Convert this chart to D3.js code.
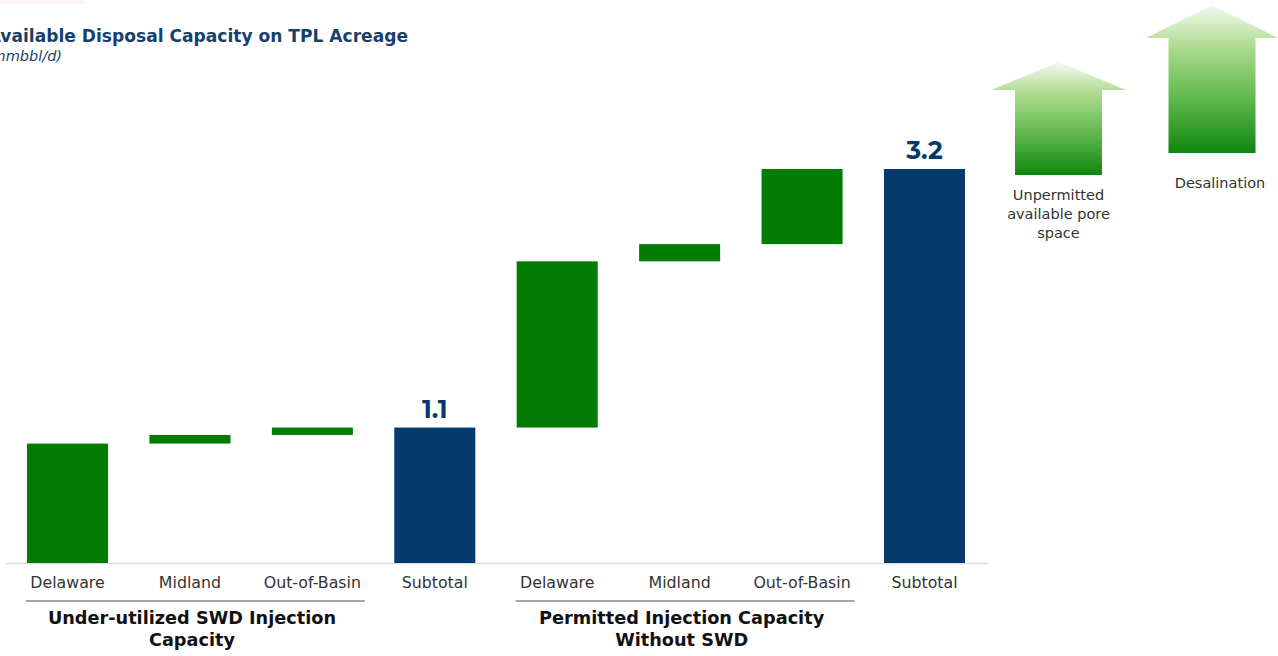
<!DOCTYPE html>
<html>
<head>
<meta charset="utf-8">
<script src="https://cdn.jsdelivr.net/npm/d3@7"></script>
<style>
  html, body { margin: 0; padding: 0; background: #ffffff; }
  svg { display: block; }
</style>
</head>
<body>
<svg id="chart" width="1278" height="656"></svg>
<script>
// Waterfall of available disposal capacity (mmbbl/d)
const categories = ["Delaware", "Midland", "Out-of-Basin", "Subtotal",
                    "Delaware", "Midland", "Out-of-Basin", "Subtotal"];
const stepValues = [0.97, 0.07, 0.06, null, 1.35, 0.14, 0.61, null];
const subtotalValues = [1.1, 3.2];
const groupLabels = [
  ["Under-utilized SWD Injection", "Capacity"],
  ["Permitted Injection Capacity", "Without SWD"]
];
const upsideLabels = [
  ["Unpermitted", "available pore", "space"],
  ["Desalination"]
];

const GREEN = "#037c03";
const NAVY = "#053a6d";
const TITLE = "#163f6c";
const FONT = "'DejaVu Sans', sans-serif";

const svg = d3.select("#chart");

// faint header strip
svg.append("rect").attr("x", 0).attr("y", 0).attr("width", 84).attr("height", 4)
  .attr("fill", "#fcf0fa");

// Build waterfall segments
let running = 0, subIdx = 0;
const bars = categories.map((c, i) => {
  if (stepValues[i] === null) {
    const v = subtotalValues[subIdx++];
    running = v;
    return { i, c, y0: 0, y1: v, total: true, label: v };
  }
  const y0 = running;
  running += stepValues[i];
  return { i, c, y0, y1: running, total: false };
});

const x = d3.scaleBand()
  .domain(d3.range(categories.length))
  .range([6.3, 985.7])
  .paddingInner(0.338)
  .paddingOuter(0.169);

const y = d3.scaleLinear().domain([0, 3.2]).range([563, 169]);

// baseline
svg.append("line")
  .attr("x1", 6).attr("x2", 988)
  .attr("y1", y(0) + 0.5).attr("y2", y(0) + 0.5)
  .attr("stroke", "#dcdcdc").attr("stroke-width", 1.5);

svg.append("g").selectAll("rect").data(bars).join("rect")
  .attr("x", d => x(d.i))
  .attr("width", x.bandwidth())
  .attr("y", d => y(d.y1))
  .attr("height", d => y(d.y0) - y(d.y1))
  .attr("fill", d => d.total ? NAVY : GREEN);

// subtotal value labels
svg.append("g").selectAll("text").data(bars.filter(d => d.total)).join("text")
  .attr("x", d => x(d.i) + x.bandwidth() / 2)
  .attr("y", d => y(d.y1) - 10)
  .attr("text-anchor", "middle")
  .attr("font-family", "Montserrat, 'DejaVu Sans', sans-serif")
  .attr("font-weight", "bold")
  .attr("font-size", 25)
  .attr("fill", NAVY)
  .text(d => d3.format(".1f")(d.label));

// category axis
const xAxis = d3.axisBottom(x).tickSize(0).tickFormat(i => categories[i]);
const gx = svg.append("g").attr("transform", `translate(0,${y(0)})`).call(xAxis);
gx.select(".domain").remove();
gx.selectAll("text")
  .attr("dy", 0).attr("y", 25)
  .attr("font-family", FONT).attr("font-size", 15.8)
  .attr("fill", "#333333");

// group brackets and labels
[[0, 2], [4, 6]].forEach(([a, b], g) => {
  const x1 = x(a) - 1, x2 = x(b) + x.bandwidth() + 12;
  svg.append("line")
    .attr("x1", x1).attr("x2", x2).attr("y1", 601).attr("y2", 601)
    .attr("stroke", "#888888").attr("stroke-width", 1.3);
  const cx = (x(a) + x(b) + x.bandwidth()) / 2 + 2;
  const t = svg.append("text")
    .attr("text-anchor", "middle")
    .attr("font-family", FONT).attr("font-weight", "bold")
    .attr("font-size", 17.7).attr("fill", "#111111");
  groupLabels[g].forEach((line, k) => {
    t.append("tspan").attr("x", cx).attr("y", 624 + k * 22).text(line);
  });
});

// title and unit, right-aligned so the heading runs from the page's left edge
const titleText = svg.append("text")
  .attr("x", 408).attr("y", 42)
  .attr("text-anchor", "end")
  .attr("font-family", FONT).attr("font-weight", "bold")
  .attr("font-size", 18.5).attr("fill", TITLE)
  .text("vailable Disposal Capacity on TPL Acreage");
const visibleLen = titleText.node().getComputedTextLength();
titleText.attr("font-size", 18.5 * 408 / visibleLen)
  .text("Available Disposal Capacity on TPL Acreage");

svg.append("text")
  .attr("x", 62).attr("y", 61)
  .attr("text-anchor", "end")
  .attr("font-family", FONT).attr("font-style", "italic")
  .attr("font-size", 14.5).attr("fill", TITLE)
  .text("(mmbbl/d)");

// upside arrows
const defs = svg.append("defs");
const grad = defs.append("linearGradient").attr("id", "arrowGrad")
  .attr("x1", 0).attr("y1", 0).attr("x2", 0).attr("y2", 1);
grad.append("stop").attr("offset", "0%").attr("stop-color", "#f4faef");
grad.append("stop").attr("offset", "30%").attr("stop-color", "#a9d98b");
grad.append("stop").attr("offset", "65%").attr("stop-color", "#5cb64a");
grad.append("stop").attr("offset", "100%").attr("stop-color", "#0f860f");

const arrows = [
  { cx: 1058.5, tip: 62, headBase: 90, headHalf: 67.5, shaftHalf: 43.5, bottom: 175, textY: 200 },
  { cx: 1212, tip: 5, headBase: 38, headHalf: 66, shaftHalf: 43.5, bottom: 153, textY: 188 }
];
arrows.forEach((a, k) => {
  const pts = [
    [a.cx, a.tip], [a.cx + a.headHalf, a.headBase], [a.cx + a.shaftHalf, a.headBase],
    [a.cx + a.shaftHalf, a.bottom], [a.cx - a.shaftHalf, a.bottom],
    [a.cx - a.shaftHalf, a.headBase], [a.cx - a.headHalf, a.headBase]
  ];
  svg.append("path")
    .attr("d", d3.line()(pts) + "Z")
    .attr("fill", "url(#arrowGrad)");
  const t = svg.append("text")
    .attr("text-anchor", "middle")
    .attr("font-family", FONT).attr("font-size", 14.5)
    .attr("fill", "#333333");
  upsideLabels[k].forEach((line, j) => {
    t.append("tspan").attr("x", k === 1 ? a.cx + 8 : a.cx).attr("y", a.textY + j * 19).text(line);
  });
});
</script>
</body>
</html>
